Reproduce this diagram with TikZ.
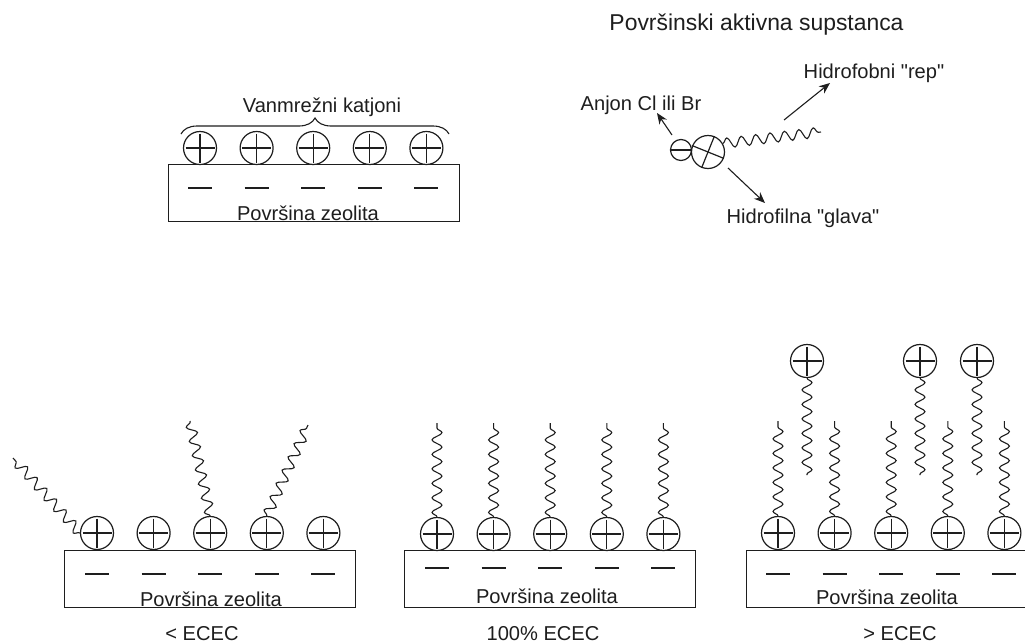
\documentclass[tikz,border=0pt]{standalone}
\usepackage{fontspec}
\newfontfamily\lblfont{Liberation Sans}
\usetikzlibrary{decorations.pathmorphing,decorations.pathreplacing,arrows.meta}
\definecolor{ink}{HTML}{1E1E1E}
\tikzset{
  cation/.style={circle,draw=ink,line width=1.2pt,minimum size=33pt,inner sep=0pt,fill=white,
    path picture={\draw[line width=1.2pt,ink] ([yshift=-2pt]path picture bounding box.north)--([yshift=2pt]path picture bounding box.south);
      \draw[line width=1.2pt,ink] ([xshift=2pt]path picture bounding box.west)--([xshift=-2pt]path picture bounding box.east);}},
  plainion/.style={circle,draw=ink,line width=1.2pt,inner sep=0pt,fill=white},
  surface/.style={draw=ink,line width=1.3pt,rectangle,inner sep=0pt,anchor=north west},
  charge/.style={draw=ink,line width=1.2pt},
  tail/.style={draw=ink,line width=1.1pt,decorate,decoration={snake,amplitude=5pt,segment length=14.5pt}},
  pointer/.style={draw=ink,line width=1.1pt,-{Stealth[length=11pt,width=9pt]}},
  lbl/.style={text=ink,font=\lblfont\fontsize{20.1pt}{22pt}\selectfont,anchor=base,inner sep=0pt},
  bigtitle/.style={lbl,font=\lblfont\fontsize{22.9pt}{26pt}\selectfont},
}
\newcommand{\surfacegroup}[8]{%
  % #1 prefix, #2 rect left, #3 rect top, #4 circle x0, #5 circle y, #6 dash y, #7 text x, #8 text y
  \node[surface,minimum width=291pt,minimum height=57pt] (#1r) at (#2,#3) {};
  \foreach \i in {0,1,2,3,4}{
    \node[cation] (#1c\i) at ({#4+56.6*\i},#5) {};
    \coordinate (#1a\i) at ({#4+56.6*\i-12},#6);
    \coordinate (#1b\i) at ({#4+56.6*\i+12},#6);
    \draw[charge] (#1a\i) -- (#1b\i);
  }
  \node[lbl] (#1t) at (#7,#8) {Površina zeolita};
}
\begin{document}
\begin{tikzpicture}[x=1pt,y=-1pt]
\useasboundingbox[fill=white] (0,0) rectangle (1025,643);
\clip (0,0) rectangle (1025,643);
% Top left
\surfacegroup{A}{168}{164}{200}{148}{188}{308}{220}
\node[lbl] (Avt) at (322,112) {Vanmrežni katjoni};
\coordinate (Abl) at (181,134);
\coordinate (Abr) at (449,134);
\draw[draw=ink,line width=1.1pt,decorate,decoration={brace,amplitude=16pt,aspect=0.5}] (Abl) -- (Abr);
% Surfactant
\node[bigtitle] (Stitle) at (756.5,30) {Površinski aktivna supstanca};
\node[lbl] (Srep) at (874,78) {Hidrofobni "rep"};
\node[lbl] (San) at (641,110) {Anjon Cl ili Br};
\node[lbl] (Sgl) at (803,223) {Hidrofilna "glava"};
\node[plainion,minimum size=21pt] (Sm) at (681,150) {};
\draw[charge] (Sm.west) -- (Sm.east);
\node[plainion,minimum size=33pt] (Sp) at (708,152) {};
\draw[charge] (Sp.68) -- (Sp.248);
\draw[charge] (Sp.158) -- (Sp.338);
\coordinate (Stail) at (821,132);
\draw[tail] (Sp.30) -- (Stail);
\coordinate (S1a) at (672,135); \coordinate (S1b) at (657,113);
\coordinate (S2a) at (784,120); \coordinate (S2b) at (830,83);
\coordinate (S3a) at (728,168); \coordinate (S3b) at (765,203);
\draw[pointer] (S1a) -- (S1b);
\draw[pointer] (S2a) -- (S2b);
\draw[pointer] (S3a) -- (S3b);
% Bottom 1
\surfacegroup{B}{64}{550}{97}{533}{574}{211}{606}
\node[lbl] (Be) at (202,640) {< ECEC};
\coordinate (Bt0) at (13,458);
\coordinate (Bt2) at (190,421);
\coordinate (Bt3) at (308,425);
\draw[tail] (Bc0.west) -- (Bt0);
\draw[tail] (Bc2.north) -- (Bt2);
\draw[tail] (Bc3.north) -- (Bt3);
% Bottom 2
\surfacegroup{C}{404}{550}{437}{534}{568}{547}{603}
\node[lbl] (Ce) at (543,640) {100\% ECEC};
\foreach \i in {0,1,2,3,4}{
  \coordinate (Ct\i) at ({437+56.6*\i},423);
  \draw[tail] (Cc\i.north) -- (Ct\i);
}
% Bottom 3
\surfacegroup{D}{746}{550}{778}{533}{574}{887}{604}
\node[lbl] (De) at (900,640) {> ECEC};
\foreach \i in {0,1,2,3,4}{
  \coordinate (Dt\i) at ({778+56.6*\i},421);
  \draw[tail] (Dc\i.north) -- (Dt\i);
}
\foreach \n/\x in {1/807,2/920,3/977}{
  \node[cation] (Df\n) at (\x,361) {};
  \coordinate (Dfe\n) at ({\x},475);
  \draw[tail] (Df\n.south) -- (Dfe\n);
}
\end{tikzpicture}
\end{document}
